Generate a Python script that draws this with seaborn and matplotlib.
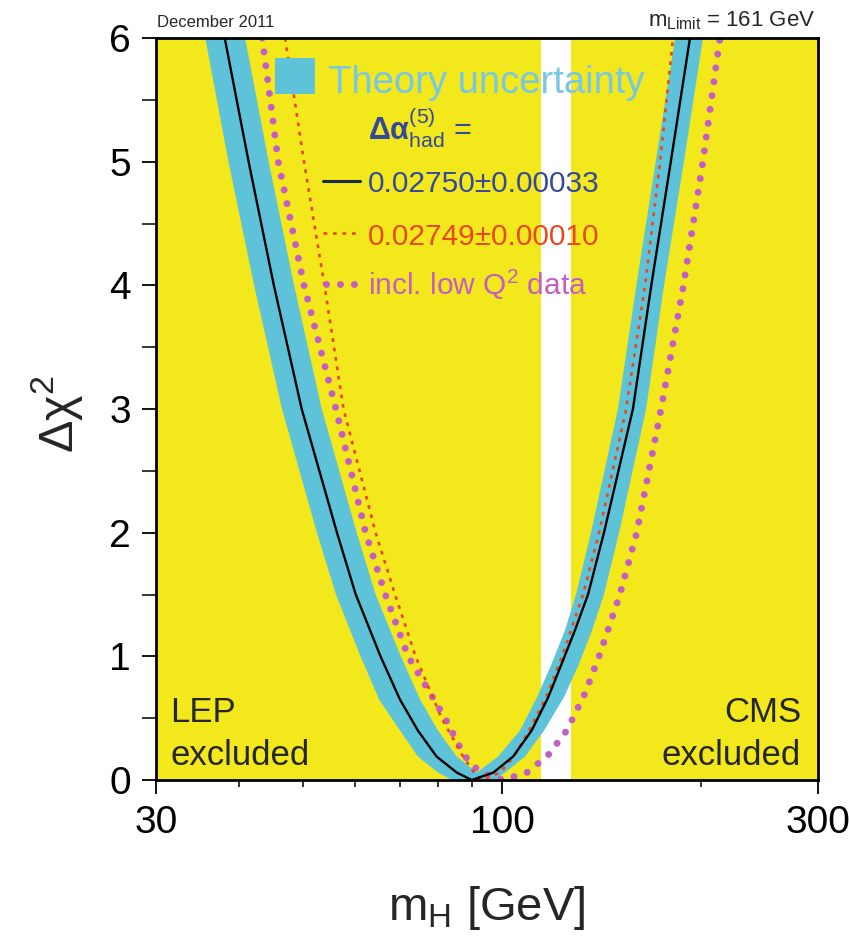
import numpy as np
import pandas as pd
import matplotlib
matplotlib.use("Agg")
import matplotlib.pyplot as plt
import seaborn as sns
from matplotlib.lines import Line2D
from matplotlib.patches import Rectangle
from matplotlib.ticker import NullFormatter

# ---------------- data ----------------
# central fit, Delta alpha_had = 0.02750 +- 0.00033
black_m = [38.1, 41.4, 45.2, 49.8, 56.3, 60.1, 65.5, 70.1, 74.6, 79.6, 85.4, 90.0,
           97.0, 103.9, 110.8, 117.4, 123.0, 128.8, 134.8, 142.5, 157.6, 168.0, 179.8, 192.2]
black_chi2 = [6, 5, 4, 3, 2, 1.5, 1, 0.65, 0.40, 0.19, 0.06, 0,
              0.06, 0.19, 0.40, 0.67, 0.94, 1.21, 1.5, 2, 3, 4, 5, 6]

# theory-uncertainty band: outer edge (left-top -> bottom -> right-top)
band_outer_m = [35.6, 38.6, 42.2, 46.5, 52.5, 56.1, 61.1, 65.2, 70.1, 74.6, 80.0, 84.0,
                97.5, 101.0, 108.3, 115.7, 124.0, 130.7, 136.7, 142.5, 150.2, 165.0, 175.6, 188.2, 201.1]
band_outer_chi2 = [6, 5, 4, 3, 2, 1.5, 1, 0.65, 0.40, 0.19, 0.06, 0,
                   0, 0.06, 0.19, 0.40, 0.67, 0.94, 1.21, 1.5, 2, 3, 4, 5, 6]
# inner edge (left-top -> meeting point -> right-top)
band_inner_m = [40.9, 44.4, 48.5, 53.4, 60.3, 64.4, 70.3, 75.2, 80.0, 85.4, 91.6,
                98.6, 106.4, 112.9, 118.8, 124.4, 129.3, 136.2, 149.6, 159.5, 170.6, 182.5]
band_inner_chi2 = [6, 5, 4, 3, 2, 1.5, 1, 0.65, 0.40, 0.19, 0.06,
                   0.19, 0.40, 0.67, 0.94, 1.21, 1.5, 2, 3, 4, 5, 6]

# Delta alpha_had = 0.02749 +- 0.00010
red_m = [47.0, 50.2, 53.9, 57.6, 64.4, 68.9, 74.0, 81.0, 87.3, 90.7, 93.2,
         99.3, 104.2, 109.8, 116.5, 123.2, 132.5, 140.1, 153.9, 164.4, 173.2, 181.2]
red_chi2 = [6, 5, 4, 3, 2, 1.5, 1, 0.5, 0.19, 0.06, 0,
            0.06, 0.19, 0.40, 0.67, 1, 1.5, 2, 3, 4, 5, 6]

# incl. low Q^2 data
mag_m = [43.4, 45.9, 50.2, 56.1, 62.2, 66.6, 72.1, 82.0, 87.6, 92.6, 100.3,
         109.0, 117.3, 125.2, 133.4, 140.1, 150.6, 159.7, 173.8, 187.9, 201.0, 213.3]
mag_chi2 = [6, 5, 4, 3, 2, 1.5, 1, 0.5, 0.2, 0.06, 0,
            0.06, 0.2, 0.4, 0.7, 1, 1.5, 2, 3, 4, 5, 6]

lep_limit = 114.4   # LEP excluded below
cms_limit = 127.0   # CMS excluded above
x_ticks = [30, 100, 300]
x_tick_labels = ["30", "100", "300"]

# ---------------- style ----------------
sns.set_theme(style="ticks")
plt.rcParams["font.family"] = ["Liberation Sans", "DejaVu Sans"]
plt.rcParams["mathtext.fontset"] = "custom"
plt.rcParams["mathtext.rm"] = "Liberation Sans"
plt.rcParams["mathtext.it"] = "Liberation Sans:italic"
plt.rcParams["mathtext.bf"] = "Liberation Sans:bold"

YELLOW = "#F2E81C"
CYAN = "#5EC3D8"
CYAN_TXT = "#78C8E4"
BLUE_TXT = "#34489C"
RED = "#E8481C"
MAGENTA = "#C45EC4"

W, H = 849, 936
fig = plt.figure(figsize=(W / 100, H / 100), dpi=100)
fig.patch.set_facecolor("white")


def fx(px):
    return px / W


def fy(py):
    return 1 - py / H


ax = fig.add_axes([fx(156), fy(780), (818 - 156) / W, (780 - 38) / H])
ax.set_xscale("log")
ax.set_xlim(30, 300)
ax.set_ylim(0, 6)
ax.set_facecolor("white")

ax.axvspan(30, lep_limit, color=YELLOW, lw=0, zorder=0)
ax.axvspan(cms_limit, 300, color=YELLOW, lw=0, zorder=0)

# band polygon
poly_m = band_outer_m + band_inner_m[::-1]
poly_c = band_outer_chi2 + band_inner_chi2[::-1]
ax.fill(poly_m, poly_c, color=CYAN, lw=0, zorder=2)

df_black = pd.DataFrame({"mH": black_m, "chi2": black_chi2})
df_red = pd.DataFrame({"mH": red_m, "chi2": red_chi2})
df_mag = pd.DataFrame({"mH": mag_m, "chi2": mag_chi2})

MAG_LS = (0, (0.01, 2.0))
RED_LS = (0, (1.4, 2.2))
sns.lineplot(data=df_mag, x="mH", y="chi2", ax=ax, color=MAGENTA, lw=5.0,
             linestyle=MAG_LS, dash_capstyle="round",
             estimator=None, legend=False, zorder=3)
sns.lineplot(data=df_red, x="mH", y="chi2", ax=ax, color=RED, lw=1.9,
             linestyle=RED_LS, estimator=None, legend=False, zorder=4)
sns.lineplot(data=df_black, x="mH", y="chi2", ax=ax, color="black", lw=1.7,
             estimator=None, legend=False, zorder=5)

# axes / ticks
ax.set_xlabel("")
ax.set_ylabel("")
ax.set_xticks(x_ticks)
ax.set_xticklabels(x_tick_labels)
ax.set_xticks([40, 50, 60, 70, 80, 90, 200], minor=True)
ax.xaxis.set_minor_formatter(NullFormatter())
ax.set_yticks(range(0, 7))
ax.set_yticks(np.arange(0.5, 6, 1.0), minor=True)
ax.tick_params(axis="both", which="major", direction="out", length=10, width=1.3,
               labelsize=28, color="black", labelcolor="black")
ax.tick_params(axis="y", which="major", pad=8)
ax.tick_params(axis="x", which="major", pad=8)
ax.tick_params(axis="y", which="minor", direction="out", length=10, width=1.3)
ax.tick_params(axis="x", which="minor", direction="out", length=5, width=1.3)
for s in ax.spines.values():
    s.set_visible(True)
    s.set_linewidth(2.0)
    s.set_color("black")
    s.set_zorder(10)

# axis labels
fig.text(fx(57), fy(414), r"$\Delta\mathrm{\chi}^2$", rotation=90, ha="center",
         va="center", fontsize=35)
fig.text(fx(487), fy(920), r"m$_{\mathrm{H}}$ [GeV]", ha="center", va="baseline",
         fontsize=34)

# header texts
fig.text(fx(157), fy(27), "December 2011", ha="left", va="baseline", fontsize=12)
fig.text(fx(815), fy(26), r"m$_{\mathrm{Limit}}$ = 161 GeV", ha="right",
         va="baseline", fontsize=16)

# exclusion labels
fig.text(fx(170), fy(722), "LEP", ha="left", va="baseline", fontsize=25)
fig.text(fx(170), fy(765), "excluded", ha="left", va="baseline", fontsize=25)
fig.text(fx(801), fy(722), "CMS", ha="right", va="baseline", fontsize=25)
fig.text(fx(801), fy(765), "excluded", ha="right", va="baseline", fontsize=25)

# legend block
fig.add_artist(Rectangle((fx(275), fy(94)), (315 - 275) / W, (94 - 58) / H,
                         transform=fig.transFigure, color=CYAN, lw=0))
fig.text(fx(328), fy(93), "Theory uncertainty", ha="left", va="baseline",
         fontsize=27.5, color=CYAN_TXT)
fig.text(fx(368), fy(140), r"$\mathbf{\Delta\alpha}^{(5)}_{\mathrm{had}}$ =",
         ha="left", va="baseline", fontsize=22, color=BLUE_TXT)
fig.text(fx(368), fy(192), "0.02750\u00b10.00033", ha="left", va="baseline",
         fontsize=21.5, color=BLUE_TXT)
fig.text(fx(368), fy(245), "0.02749\u00b10.00010", ha="left", va="baseline",
         fontsize=21.5, color=RED)
fig.text(fx(368), fy(295), r"incl. low Q$^{2}$ data", ha="left", va="baseline",
         fontsize=21.5, color=MAGENTA)
fig.add_artist(Line2D([fx(323), fx(360)], [fy(181), fy(181)], transform=fig.transFigure,
                      color="#1a2a4a", lw=2.2))
fig.add_artist(Line2D([fx(323), fx(358)], [fy(233), fy(233)], transform=fig.transFigure,
                      color=RED, lw=1.9, linestyle=RED_LS))
fig.add_artist(Line2D([fx(326), fx(358)], [fy(284), fy(284)], transform=fig.transFigure,
                      color=MAGENTA, lw=5.0, linestyle=MAG_LS,
                      dash_capstyle="round"))

fig.savefig("out.png", dpi=100)
